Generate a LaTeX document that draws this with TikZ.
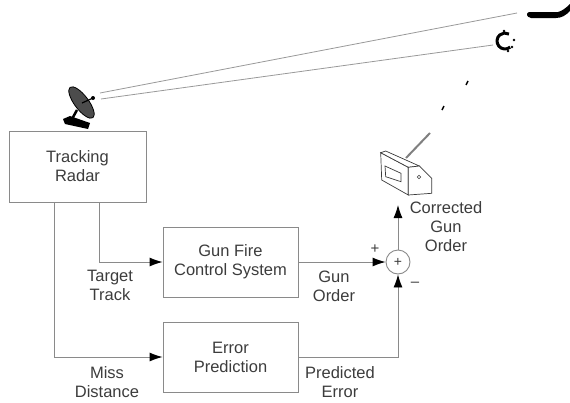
\documentclass[tikz,border=0pt]{standalone}
\usepackage{fontspec}
\setmainfont{Liberation Sans}
\usetikzlibrary{arrows.meta}

\definecolor{edge}{HTML}{8A8A8A}
\definecolor{ink}{HTML}{3C3C3C}

\tikzset{
	block/.style={rectangle, draw=edge, line width=0.9pt, minimum width=135pt, minimum height=70pt, align=center, text=ink},
	tag/.style={align=center, text=ink, inner sep=0pt},
	flow/.style={draw=edge, line width=0.9pt, -{Latex[length=13pt,width=9pt,black]}},
	beam/.style={draw=gray!80, line width=0.8pt}
}

\begin{document}
\begin{tikzpicture}[x=1pt, y=-1pt, font=\fontsize{16.5}{19}\selectfont]
		\useasboundingbox (0,0) rectangle (570,402);
		
		\node[block, minimum width=137pt, minimum height=71pt] (radar) at (77.5,166.5) {Tracking\\Radar};
		\node[block] (gfcs) at (230.5,262) {Gun Fire\\Control System};
		\node[block] (err) at (230.5,357) {Error\\Prediction};
		\node[circle, draw=edge, line width=0.9pt, minimum size=24pt, inner sep=0pt, text=ink, font=\fontsize{14}{14}\selectfont] (sum) at (398,262) {+};
		\coordinate (out) at (398,205);
		
		\draw[flow] ([xshift=-23.5pt]radar.south) |- (err.west);
		\draw[flow] ([xshift=21.5pt]radar.south) |- (gfcs.west);
		\draw[flow] (gfcs.east) -- (sum.west);
		\draw[flow] (err.east) -| (sum.south);
		\draw[flow] (sum.north) -- (out);
		
		\node[tag] (track) at (110,285) {Target\\Track};
		\node[tag] (miss) at (107,382) {Miss\\Distance};
		\node[tag] (order) at (334,286) {Gun\\Order};
		\node[tag] (pred) at (340,382) {Predicted\\Error};
		\node[tag] (corr) at (446,227) {Corrected\\Gun\\Order};
		\node[tag, font=\fontsize{15}{15}\selectfont] (plus) at (375,249) {+};
		\node[tag, font=\fontsize{15}{15}\selectfont] (minus) at (415,284) {--};
		
		% radar dish
		\fill[black] (63,119) -- (70,116) -- (90,123) -- (88,129) -- (65,124) -- cycle;
		\draw[black, line width=2.5pt] (77,110) -- (72,119);
		\filldraw[fill=gray!60!black, draw=black, line width=0.8pt, rotate around={-53:(81.5,102.5)}] (81.5,102.5) ellipse [x radius=19pt, y radius=7pt];
		\draw[black, line width=1.2pt] (82,103) -- (93,98);
		\fill[black] (93,98) circle [radius=2pt];
		\coordinate (feedA) at (100,93);
		\coordinate (feedB) at (101,99);
		
		% target and shell
		\fill[black] (529,12) -- (558,12) .. controls (562,11) and (566,8) .. (570,4) -- (570,11) .. controls (566,15) and (562,18) .. (556,18) -- (531,18) .. controls (526,17) and (526,13) .. (529,12) -- cycle;
		\coordinate (plane) at (517,13);
		\draw[black, line width=3pt] (505,41) ++(50:8) arc [start angle=50, end angle=300, radius=8];
		\fill[black] (514,40) circle [radius=1.3pt] (512,47) circle [radius=1.3pt] (504,31) circle [radius=1.3pt] (508,51) circle [radius=1.3pt];
		\coordinate (shell) at (493,45);
		\draw[beam] (feedA) -- (plane);
		\draw[beam] (feedB) -- (shell);
		\draw[black, line width=1.5pt] (466,85) -- (468,81);
		\draw[black, line width=1.5pt] (442,110) -- (444,106);
		
		% gun
		\draw[gray, line width=2pt] (406,158) -- (430,133);
		\draw[ink, line width=0.7pt, fill=white] (380.7,152.7) -- (408.3,167.3) -- (408.3,195) -- (381.7,180) -- cycle;
		\draw[ink, line width=0.7pt, fill=white] (380.7,152.7) -- (385.7,151) -- (419.3,166) -- (408.3,167.3) -- cycle;
		\draw[ink, line width=0.7pt, fill=white] (408.3,167.3) -- (419.3,166) -- (431.7,178.3) -- (431.7,193.3) -- (408.3,195) -- cycle;
		\draw[ink, line width=0.7pt] (385,166) -- (401,173.3) -- (401,181.7) -- (385.7,176.7) -- cycle;
		\draw[ink, line width=0.6pt] (419,177) circle [radius=1.8pt];
		
	\end{tikzpicture}
\end{document}
